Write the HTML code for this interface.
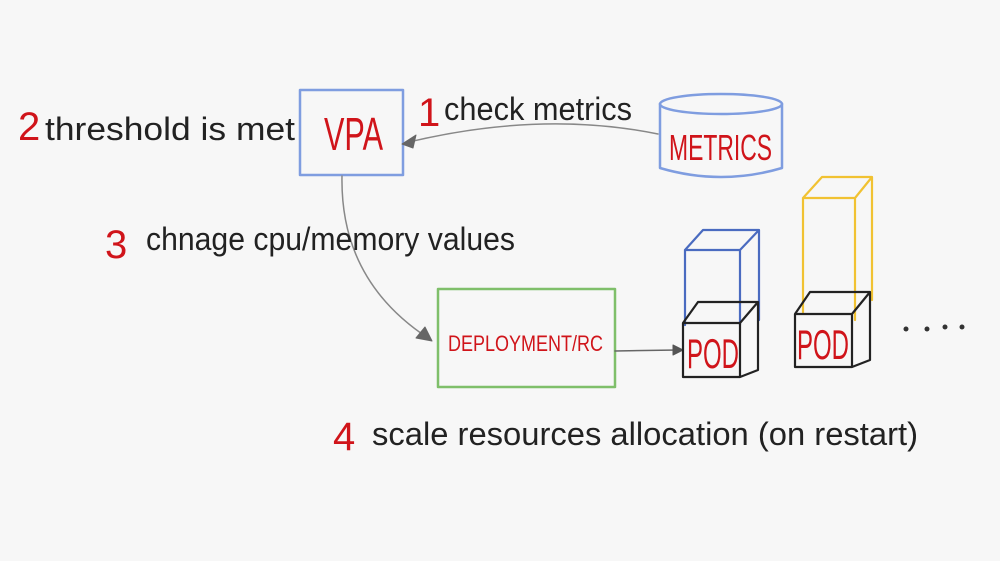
<!DOCTYPE html>
<html><head><style>
html,body{margin:0;padding:0;background:#f7f7f7;}
svg{display:block}
.h{font-family:"Liberation Sans Narrow","Liberation Sans",sans-serif;}
</style></head><body>
<svg width="1000" height="561" viewBox="0 0 1000 561" xmlns="http://www.w3.org/2000/svg">
<rect width="1000" height="561" fill="#f7f7f7"/>
<g fill="none" stroke-linecap="round" stroke-linejoin="round">
<rect x="300" y="90" width="103" height="85" stroke="#7f9de0" stroke-width="2.5"/>
<ellipse cx="721" cy="104" rx="61" ry="10" stroke="#7f9de0" stroke-width="2.5"/>
<path d="M660 104 V168 Q721 186 782 168 V104" stroke="#7f9de0" stroke-width="2.5"/>
<path d="M658 134 Q540 110 405 143" stroke="#888" stroke-width="1.5"/>
<path d="M402 144 L416 135 L413 148 Z" fill="#666" stroke="#666"/>
<path d="M342 176 Q340 280 428 338" stroke="#888" stroke-width="1.5"/>
<path d="M432 341 L416 338 L425 327 Z" fill="#666" stroke="#666"/>
<rect x="438" y="289" width="177" height="98" stroke="#7fbf6a" stroke-width="2.5"/>
<path d="M615 351 L678 350" stroke="#666" stroke-width="1.5"/>
<path d="M683 350 L673 345 L673 355 Z" fill="#555" stroke="#555"/>
<g stroke="#4a6bc0" stroke-width="2.2">
<path d="M685 250 H740 V325 M685 250 V325 M685 250 L703 230 H759 L740 250 M759 230 V320"/>
</g>
<g stroke="#f1c232" stroke-width="2.2">
<path d="M803 198 H855 V320 M803 198 V312 M803 198 L822 177 H872 L855 198 M872 177 V300"/>
</g>
<g stroke="#222" stroke-width="2.2">
<path d="M683 323 H740 V377 H683 Z M683 323 L698 302 H758 L740 323 M758 302 V370 L740 377"/>
</g>
<g stroke="#222" stroke-width="2.2">
<path d="M795 314 H852 V367 H795 Z M795 314 L810 292 H870 L852 314 M870 292 V360 L852 367"/>
</g>
</g>
<g fill="#333"><circle cx="906" cy="329" r="2.5"/><circle cx="927" cy="329" r="2.5"/><circle cx="945" cy="327" r="2.5"/><circle cx="962" cy="327" r="2.5"/></g>
<g class="h" lengthAdjust="spacingAndGlyphs">
<text x="324" y="150" font-size="46" fill="#d0141a" textLength="59" lengthAdjust="spacingAndGlyphs">VPA</text>
<text x="669" y="160" font-size="36" fill="#d0141a" textLength="103" lengthAdjust="spacingAndGlyphs">METRICS</text>
<text x="448" y="351" font-size="22" fill="#d0141a" textLength="155" lengthAdjust="spacingAndGlyphs">DEPLOYMENT/RC</text>
<text x="687" y="368" font-size="42" fill="#d0141a" textLength="52" lengthAdjust="spacingAndGlyphs">POD</text>
<text x="797" y="359" font-size="42" fill="#d0141a" textLength="52" lengthAdjust="spacingAndGlyphs">POD</text>
<text x="18" y="140" font-size="40" fill="#d0141a">2</text>
<text x="45" y="140" font-size="32" fill="#222" textLength="250" lengthAdjust="spacingAndGlyphs">threshold is met</text>
<text x="418" y="126" font-size="40" fill="#d0141a">1</text>
<text x="444" y="120" font-size="32" fill="#222" textLength="188" lengthAdjust="spacingAndGlyphs">check metrics</text>
<text x="105" y="258" font-size="40" fill="#d0141a">3</text>
<text x="146" y="250" font-size="32" fill="#222" textLength="369" lengthAdjust="spacingAndGlyphs">chnage cpu/memory values</text>
<text x="333" y="450" font-size="40" fill="#d0141a">4</text>
<text x="372" y="445" font-size="32" fill="#222" textLength="546" lengthAdjust="spacingAndGlyphs">scale resources allocation (on restart)</text>
</g>
</svg>
</body></html>
